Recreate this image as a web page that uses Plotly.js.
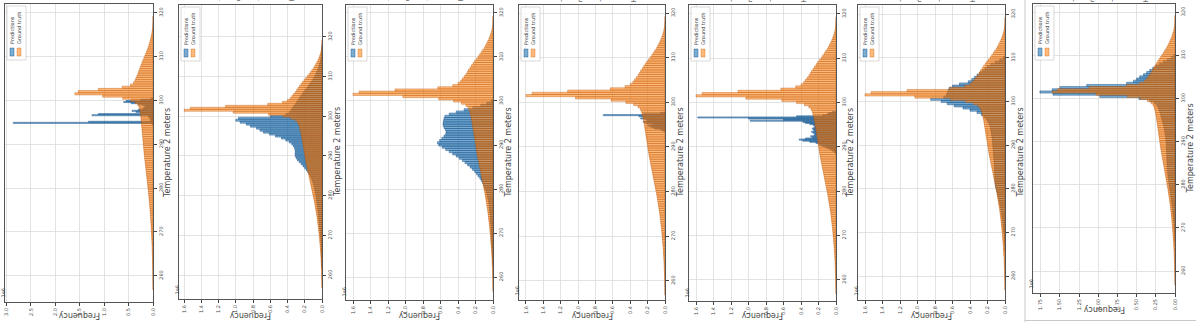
<!DOCTYPE html>
<html>
<head>
<meta charset="utf-8">
<script src="https://cdn.plot.ly/plotly-3.0.1.min.js"></script>
<style>
  html, body { margin: 0; padding: 0; background: #fff; }
  #plot { width: 1196px; height: 322px; }
</style>
</head>
<body>
<div id="plot"></div>
<script>
// Ground truth histogram (same for every panel), counts in 1e6, 0.5 K bins
const gtStart = 257.0;
const gtWidth = 0.5;
const groundTruth = [
  0.001, 0.001, 0.002, 0.002, 0.003, 0.003, 0.004, 0.005, 0.005, 0.006,
  0.007, 0.008, 0.009, 0.010, 0.011, 0.012, 0.014, 0.015, 0.017, 0.018,
  0.020, 0.022, 0.024, 0.026, 0.028, 0.030, 0.032, 0.035, 0.037, 0.040,
  0.042, 0.045, 0.048, 0.051, 0.054, 0.057, 0.060, 0.064, 0.068, 0.072,
  0.076, 0.080, 0.084, 0.088, 0.092, 0.097, 0.102, 0.107, 0.112, 0.117,
  0.122, 0.127, 0.132, 0.137, 0.142, 0.147, 0.152, 0.157, 0.162, 0.167,
  0.172, 0.177, 0.182, 0.186, 0.190, 0.194, 0.198, 0.202, 0.206, 0.210,
  0.214, 0.218, 0.222, 0.226, 0.230, 0.234, 0.238, 0.242, 0.247, 0.252,
  0.258, 0.265, 0.272, 0.285, 0.310, 0.360, 0.450, 0.620, 1.030, 1.600,
  1.530, 1.120, 0.630, 0.460, 0.400, 0.370, 0.350, 0.330, 0.310, 0.295,
  0.280, 0.262, 0.245, 0.228, 0.210, 0.190, 0.170, 0.152, 0.135, 0.118,
  0.100, 0.086, 0.073, 0.060, 0.048, 0.038, 0.029, 0.021, 0.014, 0.009,
  0.005, 0.003, 0.0015, 0.001, 0.0005
];

// Predictions of each model: first bin centre, bin width, counts in 1e6
const pred1Start = 294.625, pred1Width = 0.25;
const predictions1 = [
  0.02, 2.86, 1.32, 0.05, 0.05, 0.06, 0.08, 0.10, 1.25, 1.12,
  0.25, 0.35, 0.43, 0.30, 0.20, 0.18, 0.15, 0.20, 0.30, 0.45,
  0.60, 0.55, 0.25, 0.05
];

const pred2Start = 262.0, pred2Width = 0.5;
const predictions2 = [
  0.0005, 0.0008, 0.001, 0.0015, 0.002, 0.003, 0.004, 0.005, 0.006, 0.007,
  0.008, 0.009, 0.010, 0.012, 0.014, 0.016, 0.018, 0.020, 0.022, 0.025,
  0.028, 0.030, 0.032, 0.034, 0.036, 0.038, 0.040, 0.043, 0.046, 0.049,
  0.052, 0.055, 0.058, 0.061, 0.064, 0.067, 0.070, 0.074, 0.078, 0.083,
  0.088, 0.094, 0.100, 0.108, 0.116, 0.126, 0.138, 0.150, 0.165, 0.182,
  0.200, 0.220, 0.240, 0.262, 0.285, 0.300, 0.310, 0.312, 0.310, 0.312,
  0.318, 0.330, 0.350, 0.380, 0.420, 0.470, 0.540, 0.610, 0.680, 0.720,
  0.760, 0.830, 0.880, 0.950, 1.000, 0.970, 0.600, 0.420, 0.380, 0.360,
  0.345, 0.330, 0.310, 0.295, 0.280, 0.265, 0.250, 0.232, 0.215, 0.198,
  0.180, 0.163, 0.146, 0.130, 0.114, 0.100, 0.086, 0.074, 0.063, 0.053,
  0.044, 0.036, 0.029, 0.023, 0.018, 0.014, 0.010, 0.007, 0.005, 0.003,
  0.002, 0.001
];

const pred3Start = 263.0, pred3Width = 0.5;
const predictions3 = [
  0.001, 0.002, 0.003, 0.004, 0.005, 0.006, 0.008, 0.010, 0.012, 0.014,
  0.016, 0.018, 0.019, 0.020, 0.021, 0.022, 0.023, 0.024, 0.025, 0.027,
  0.029, 0.031, 0.033, 0.035, 0.037, 0.040, 0.043, 0.046, 0.050, 0.055,
  0.060, 0.066, 0.072, 0.080, 0.088, 0.098, 0.108, 0.120, 0.135, 0.150,
  0.170, 0.190, 0.210, 0.235, 0.260, 0.290, 0.320, 0.350, 0.385, 0.420,
  0.460, 0.500, 0.540, 0.580, 0.620, 0.635, 0.610, 0.585, 0.560, 0.540,
  0.535, 0.545, 0.560, 0.570, 0.570, 0.565, 0.560, 0.550, 0.500, 0.420,
  0.330, 0.230, 0.140, 0.070, 0.020
];

const pred4Start = 293.625, pred4Width = 0.25;
const predictions4 = [
  0.02, 0.05, 0.12, 0.15, 0.18, 0.20, 0.14, 0.22, 0.25, 0.20,
  0.22, 0.28, 0.25, 0.30, 0.71, 0.25, 0.05
];

const pred5Start = 288.625, pred5Width = 0.25;
const predictions5 = [
  0.01, 0.02, 0.04, 0.06, 0.09, 0.12, 0.15, 0.18, 0.20, 0.23,
  0.30, 0.38, 0.42, 0.35, 0.27, 0.29, 0.25, 0.24, 0.26, 0.28,
  0.25, 0.26, 0.27, 0.25, 0.24, 0.26, 0.30, 0.35, 0.38, 0.98,
  0.60, 1.00, 1.58, 0.45, 0.15, 0.10, 0.08, 0.04
];

const pred6Start = 266.0, pred6Width = 0.5;
const predictions6 = [
  0.001, 0.002, 0.003, 0.004, 0.005, 0.007, 0.009, 0.011, 0.013, 0.016,
  0.019, 0.022, 0.025, 0.028, 0.031, 0.034, 0.038, 0.042, 0.046, 0.050,
  0.055, 0.060, 0.065, 0.070, 0.076, 0.082, 0.088, 0.094, 0.100, 0.108,
  0.112, 0.114, 0.115, 0.116, 0.117, 0.118, 0.119, 0.120, 0.121, 0.122,
  0.124, 0.126, 0.128, 0.130, 0.132, 0.134, 0.136, 0.138, 0.140, 0.142,
  0.144, 0.146, 0.150, 0.154, 0.158, 0.162, 0.168, 0.175, 0.185, 0.198,
  0.215, 0.240, 0.270, 0.320, 0.400, 0.480, 0.580, 0.660, 0.730, 0.850,
  0.700, 0.670, 0.660, 0.650, 0.640, 0.600, 0.520, 0.420, 0.380, 0.350,
  0.320, 0.290, 0.260, 0.230, 0.200, 0.160, 0.110, 0.060, 0.020
];

const pred7Start = 267.0, pred7Width = 0.5;
const predictions7 = [
  0.001, 0.002, 0.003, 0.004, 0.005, 0.007, 0.009, 0.011, 0.013, 0.016,
  0.019, 0.022, 0.025, 0.028, 0.031, 0.034, 0.037, 0.040, 0.044, 0.048,
  0.052, 0.056, 0.060, 0.064, 0.068, 0.072, 0.076, 0.080, 0.084, 0.088,
  0.091, 0.094, 0.097, 0.099, 0.101, 0.103, 0.104, 0.105, 0.106, 0.107,
  0.108, 0.109, 0.110, 0.111, 0.112, 0.114, 0.116, 0.119, 0.122, 0.126,
  0.130, 0.135, 0.140, 0.146, 0.152, 0.160, 0.168, 0.176, 0.184, 0.192,
  0.200, 0.210, 0.222, 0.238, 0.270, 0.330, 0.470, 0.980, 1.590, 1.760,
  1.600, 1.500, 1.150, 0.630, 0.540, 0.500, 0.460, 0.410, 0.370, 0.330,
  0.290, 0.250, 0.200, 0.150, 0.100, 0.050, 0.015
];

const predSets = [
  [pred1Start, pred1Width, predictions1],
  [pred2Start, pred2Width, predictions2],
  [pred3Start, pred3Width, predictions3],
  [pred4Start, pred4Width, predictions4],
  [pred5Start, pred5Width, predictions5],
  [pred6Start, pred6Width, predictions6],
  [pred7Start, pred7Width, predictions7]
];

// axis settings per panel
const freqMax = [3.03, 1.66, 1.68, 1.68, 1.68, 1.68, 1.85];
const freqStep = [0.5, 0.2, 0.2, 0.2, 0.2, 0.2, 0.25];
const freqFormat = [".1f", ".1f", ".1f", ".1f", ".1f", ".1f", ".2f"];
const tempRanges = [[254, 322], [254, 328], [254.8, 321.8], [255.7, 321.8], [255.2, 322], [254.5, 322.1], [254.9, 321.9]];

// frame of each panel in pixels: left, right, top, bottom
const W = 1196, H = 322;
const frames = [
  [5, 153, 4, 302],
  [179, 322, 5, 299],
  [346, 493, 5, 300],
  [519, 665, 5, 300],
  [689, 836, 5, 301],
  [858, 1005, 5, 300],
  [1033, 1175, 4, 293]
];

const BLUE = "rgba(31,119,180,0.6)", BLUE_EDGE = "rgba(22,78,135,0.8)";
const ORANGE = "rgba(255,127,14,0.55)", ORANGE_EDGE = "rgba(185,85,0,0.65)";
const TEXT = "#444";

function centers(start, width, n) {
  let c = [];
  for (let i = 0; i < n; i++) c.push(start + i * width);
  return c;
}

const px = x => x / W;
const py = y => 1 - y / H;

let traces = [];
let layout = {
  width: W, height: H,
  margin: { l: 0, r: 0, t: 0, b: 0 },
  paper_bgcolor: "#fff", plot_bgcolor: "#fff",
  barmode: "overlay", bargap: 0,
  showlegend: false,
  font: { family: "DejaVu Sans", color: TEXT },
  annotations: [], shapes: []
};

for (let i = 0; i < 7; i++) {
  let k = i === 0 ? "" : String(i + 1);
  let [l, r, t, b] = frames[i];
  let [ps, pw, pv] = predSets[i];

  traces.push({
    type: "bar", orientation: "h",
    y: centers(ps, pw, pv.length), x: pv, width: pw,
    xaxis: "x" + k, yaxis: "y" + k,
    marker: { color: BLUE, line: { color: BLUE_EDGE, width: 0.6 } },
    hoverinfo: "skip"
  });
  traces.push({
    type: "bar", orientation: "h",
    y: centers(gtStart, gtWidth, groundTruth.length), x: groundTruth, width: gtWidth,
    xaxis: "x" + k, yaxis: "y" + k,
    marker: { color: ORANGE, line: { color: ORANGE_EDGE, width: 0.6 } },
    hoverinfo: "skip"
  });

  layout["xaxis" + k] = {
    domain: [px(l), px(r)], anchor: "y" + k,
    range: [freqMax[i], 0], tick0: 0, dtick: freqStep[i], tickformat: freqFormat[i],
    tickangle: -90, ticks: "outside", ticklen: 3, tickcolor: TEXT,
    tickfont: { size: 5, color: TEXT },
    showgrid: true, gridcolor: "#dcdcdc", gridwidth: 0.8,
    showline: true, mirror: true, linecolor: "#555", linewidth: 1,
    zeroline: false, fixedrange: true
  };
  layout["yaxis" + k] = {
    domain: [py(b), py(t)], anchor: "x" + k, side: "right",
    range: tempRanges[i], tick0: 260, dtick: 10,
    tickangle: -90, ticks: "outside", ticklen: 3, tickcolor: TEXT,
    tickfont: { size: 5, color: TEXT },
    showgrid: true, gridcolor: "#dcdcdc", gridwidth: 0.8,
    showline: true, mirror: true, linecolor: "#555", linewidth: 1,
    zeroline: false, fixedrange: true
  };

  // axis titles (rotated with the whole figure)
  layout.annotations.push({
    xref: "paper", yref: "paper", x: px(r + 15), y: py((t + b) / 2),
    text: "Temperature 2 meters", textangle: -90, showarrow: false,
    font: { size: 8, color: TEXT }, xanchor: "center", yanchor: "middle"
  });
  layout.annotations.push({
    xref: "paper", yref: "paper", x: px((l + r) / 2), y: py(Math.min(b + 17, 316)),
    text: "Frequency", textangle: 180, showarrow: false,
    font: { size: 8, color: TEXT }, xanchor: "center", yanchor: "middle"
  });
  layout.annotations.push({
    xref: "paper", yref: "paper", x: px(l - 3), y: py(b - 2),
    text: "1e6", textangle: -90, showarrow: false,
    font: { size: 5, color: TEXT }, xanchor: "center", yanchor: "bottom"
  });
  if (i > 0) {
    // title of the figure row above, mostly cut off by the crop
    layout.annotations.push({
      xref: "paper", yref: "paper", x: px((l + r) / 2), y: py(i < 3 ? -4 : -2),
      text: "Temperature 2 meters", textangle: 180, showarrow: false,
      font: { size: 8, color: "#777" }, xanchor: "center", yanchor: "middle"
    });
  }

  // legend, drawn by hand because it is rotated
  layout.shapes.push({
    type: "rect", xref: "paper", yref: "paper",
    x0: px(l + 2), x1: px(l + 21), y0: py(t + 56), y1: py(t + 2),
    line: { color: "#cfcfcf", width: 0.8 }, fillcolor: "rgba(255,255,255,0.85)", layer: "above"
  });
  layout.shapes.push({
    type: "rect", xref: "paper", yref: "paper",
    x0: px(l + 5), x1: px(l + 9), y0: py(t + 52), y1: py(t + 44),
    line: { color: BLUE_EDGE, width: 0.5 }, fillcolor: BLUE, layer: "above"
  });
  layout.shapes.push({
    type: "rect", xref: "paper", yref: "paper",
    x0: px(l + 12), x1: px(l + 16), y0: py(t + 52), y1: py(t + 44),
    line: { color: ORANGE_EDGE, width: 0.5 }, fillcolor: ORANGE, layer: "above"
  });
  layout.annotations.push({
    xref: "paper", yref: "paper", x: px(l + 7), y: py(t + 42),
    text: "Predictions", textangle: -90, showarrow: false,
    font: { size: 5, color: TEXT }, xanchor: "center", yanchor: "bottom"
  });
  layout.annotations.push({
    xref: "paper", yref: "paper", x: px(l + 14), y: py(t + 42),
    text: "Ground truth", textangle: -90, showarrow: false,
    font: { size: 5, color: TEXT }, xanchor: "center", yanchor: "bottom"
  });
}

// border around the last panel
layout.shapes.push({
  type: "line", xref: "paper", yref: "paper",
  x0: px(1025), x1: px(1025), y0: 0, y1: 1,
  line: { color: "#c8c8c8", width: 1 }
});
layout.shapes.push({
  type: "line", xref: "paper", yref: "paper",
  x0: px(1025), x1: 1, y0: py(320.5), y1: py(320.5),
  line: { color: "#c8c8c8", width: 1 }
});

Plotly.newPlot("plot", traces, layout, { staticPlot: true, displayModeBar: false });
</script>
</body>
</html>
